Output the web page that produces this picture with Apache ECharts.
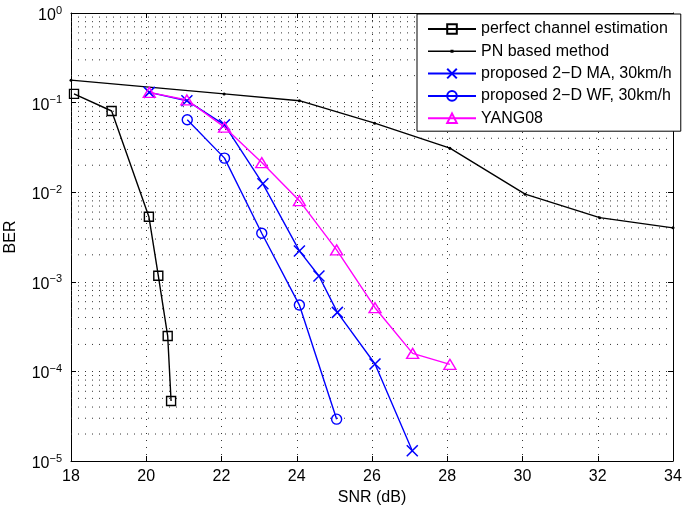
<!DOCTYPE html>
<html>
<head>
<meta charset="utf-8">
<script src="https://cdn.jsdelivr.net/npm/echarts@6/dist/echarts.min.js"></script>
<style>
html,body{margin:0;padding:0;background:#fff;}
#chart{width:694px;height:508px;}
</style>
</head>
<body>
<div id="chart"></div>
<script>
// ---- data ----
const snrPerfect = [18.08, 19.08, 20.07, 20.32, 20.57, 20.66];
const berPerfect = [0.125, 0.0806, 0.00533, 0.00117, 0.000248, 0.0000467];

const snrPN = [18, 22.07, 24.07, 26.07, 28.07, 30.07, 32.05, 34];
const berPN = [0.178, 0.125, 0.105, 0.059, 0.031, 0.0095, 0.0052, 0.0040];

const snrMA = [20.08, 21.08, 22.08, 23.1, 24.07, 24.59, 25.08, 26.08, 27.07];
const berMA = [0.13, 0.105, 0.0565, 0.0124, 0.00221, 0.00116, 0.000456, 0.000121, 0.000013];

const snrWF = [21.09, 22.08, 23.07, 24.07, 25.06];
const berWF = [0.0643, 0.024, 0.00348, 0.00055, 0.0000293];

const snrYANG = [20.08, 21.08, 22.08, 23.07, 24.07, 25.06, 26.08, 27.08, 28.07];
const berYANG = [0.13, 0.107, 0.0532, 0.0214, 0.00805, 0.00227, 0.000514, 0.000159, 0.00012];

const seriesNames = [
  'perfect channel estimation',
  'PN based method',
  'proposed 2\u2212D MA, 30km/h',
  'proposed 2\u2212D WF, 30km/h',
  'YANG08'
];

const xMin = 18, xMax = 34, xStep = 2;
const yDecadeExponents = [-5, -4, -3, -2, -1, 0];
const minorMantissas = [2, 3, 4, 5, 6, 7, 8, 9];

// ---- helpers ----
function pairs(xs, ys) { return xs.map((x, i) => [x, ys[i]]); }

const minorGridValues = [];
yDecadeExponents.slice(0, -1).forEach(e => {
  minorMantissas.forEach(m => minorGridValues.push(m * Math.pow(10, e)));
});

const FONT = '"Liberation Sans", Arial, Helvetica, sans-serif';
const FS = 16;
const gridDot = { color: '#333', width: 1, type: [1, 6] };
const xMarker = 'path://M0,0L10,10M10,0L0,10';
// legend icon for the PN line: thin line with a tiny dot (bbox forced to 48x12)
const pnIcon = 'path://M0,0L0,0M0,12L0,12M0,5.3L48,5.3L48,6.7L0,6.7ZM22.5,4.5L25.5,4.5L25.5,7.5L22.5,7.5Z';

const minorGridSeries = minorGridValues.map(v => ({
  type: 'line',
  data: [[xMin, v], [xMax, v]],
  symbol: 'none',
  silent: true,
  lineStyle: gridDot,
  z: 1,
  tooltip: { show: false }
}));

const chart = echarts.init(document.getElementById('chart'), null, { renderer: 'canvas' });

const axisLineStyle = { show: true, onZero: false, lineStyle: { color: '#000', width: 1 } };
const tickStyle = { show: true, inside: true, length: 5, lineStyle: { color: '#000' } };

const option = {
  animation: false,
  backgroundColor: '#fff',
  textStyle: { fontFamily: FONT },
  grid: { left: 71, right: 21, top: 13, bottom: 47, containLabel: false, outerBoundsMode: 'none' },
  legend: {
    data: [
      seriesNames[0],
      { name: seriesNames[1], icon: pnIcon },
      seriesNames[2],
      seriesNames[3],
      seriesNames[4]
    ],
    orient: 'vertical',
    left: 417,
    top: 14,
    padding: [7, 9, 5, 10],
    itemWidth: 48,
    itemHeight: 12,
    itemGap: 6.3,
    backgroundColor: '#fff',
    borderColor: '#000',
    borderWidth: 1,
    borderRadius: 0,
    textStyle: { fontFamily: FONT, fontSize: FS, color: '#000', lineHeight: 16 },
    z: 10
  },
  xAxis: [{
    type: 'value',
    min: xMin, max: xMax, interval: xStep,
    name: 'SNR (dB)',
    nameLocation: 'middle',
    nameGap: 27,
    nameTextStyle: { fontFamily: FONT, fontSize: FS, color: '#000' },
    axisLine: axisLineStyle,
    axisTick: tickStyle,
    axisLabel: { fontFamily: FONT, fontSize: FS, color: '#000', margin: 8 },
    splitLine: { show: true, lineStyle: gridDot }
  }, {
    type: 'value',
    position: 'top',
    min: xMin, max: xMax, interval: xStep,
    axisLine: axisLineStyle,
    axisTick: tickStyle,
    axisLabel: { show: false },
    splitLine: { show: false }
  }],
  yAxis: [{
    type: 'log',
    logBase: 10,
    min: 1e-5, max: 1,
    name: 'BER',
    nameLocation: 'middle',
    nameGap: 52,
    nameTextStyle: { fontFamily: FONT, fontSize: FS, color: '#000' },
    axisLine: axisLineStyle,
    axisTick: tickStyle,
    axisLabel: {
      margin: 9,
      color: '#000',
      padding: [5, 0, 0, 0],
      formatter: function (v) {
        const e = Math.round(Math.log10(v));
        return '{b|10}{e|' + (e < 0 ? '\u2212' + (-e) : e) + '}';
      },
      rich: {
        b: { fontFamily: FONT, fontSize: FS, color: '#000' },
        e: { fontFamily: FONT, fontSize: 11, color: '#000', padding: [0, 0, 10, 0] }
      }
    },
    splitLine: { show: true, lineStyle: gridDot }
  }, {
    type: 'log',
    logBase: 10,
    min: 1e-5, max: 1,
    position: 'right',
    axisLine: axisLineStyle,
    axisTick: tickStyle,
    axisLabel: { show: false },
    splitLine: { show: false }
  }],
  series: minorGridSeries.concat([
    {
      name: seriesNames[0],
      type: 'line',
      data: pairs(snrPerfect, berPerfect),
      color: '#000',
      lineStyle: { color: '#000', width: 1.4 },
      symbol: 'rect',
      symbolSize: 9,
      itemStyle: { color: 'rgba(0,0,0,0)', borderColor: '#000', borderWidth: 1.4 },
      z: 5
    },
    {
      name: seriesNames[1],
      type: 'line',
      data: pairs(snrPN, berPN),
      color: '#000',
      lineStyle: { color: '#000', width: 1.4 },
      symbol: 'circle',
      symbolSize: 3,
      itemStyle: { color: '#000', borderColor: '#000', borderWidth: 0 },
      z: 5
    },
    {
      name: seriesNames[2],
      type: 'line',
      data: pairs(snrMA, berMA),
      color: '#00f',
      lineStyle: { color: '#00f', width: 1.4 },
      symbol: xMarker,
      symbolSize: 11,
      itemStyle: { color: 'rgba(0,0,0,0)', borderColor: '#00f', borderWidth: 1.5 },
      z: 5
    },
    {
      name: seriesNames[3],
      type: 'line',
      data: pairs(snrWF, berWF),
      color: '#00f',
      lineStyle: { color: '#00f', width: 1.4 },
      symbol: 'circle',
      symbolSize: 10,
      itemStyle: { color: 'rgba(0,0,0,0)', borderColor: '#00f', borderWidth: 1.4 },
      z: 5
    },
    {
      name: seriesNames[4],
      type: 'line',
      data: pairs(snrYANG, berYANG),
      color: '#f0f',
      lineStyle: { color: '#f0f', width: 1.4 },
      symbol: 'triangle',
      symbolSize: [12, 10],
      itemStyle: { color: 'rgba(0,0,0,0)', borderColor: '#f0f', borderWidth: 1.4 },
      z: 5
    }
  ])
};

chart.setOption(option);
</script>
</body>
</html>
